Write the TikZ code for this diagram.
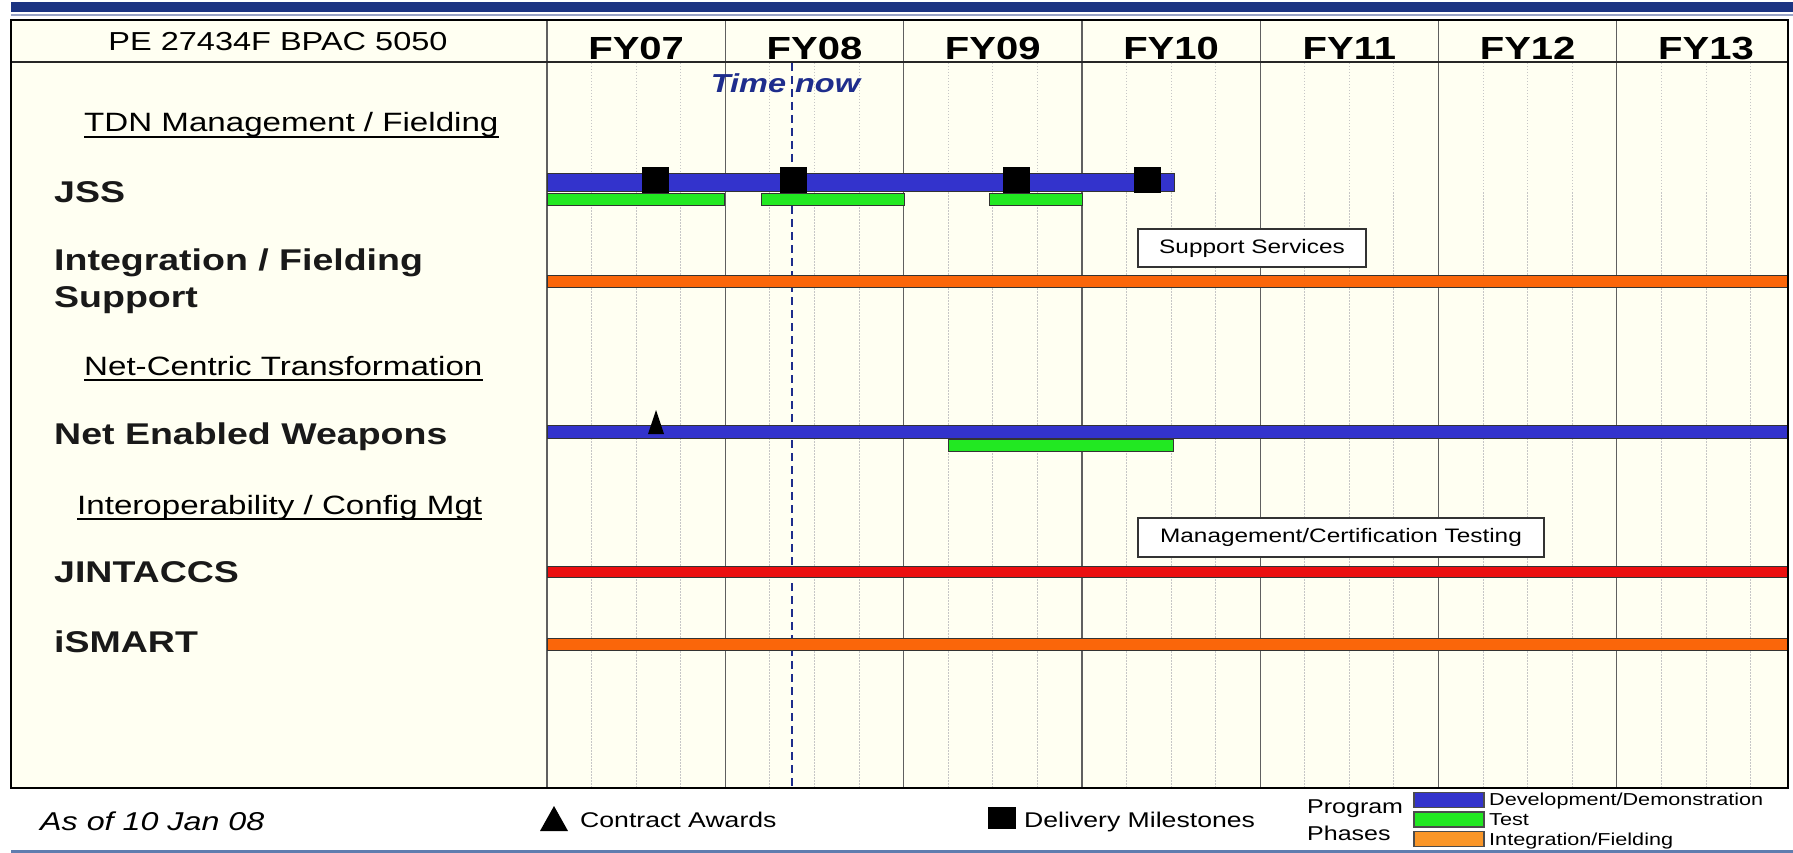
\documentclass[tikz,border=0pt]{standalone}
\usepackage{fontspec}
\setmainfont{Liberation Sans}[FakeStretch=1.25]
\usetikzlibrary{positioning,calc}

\definecolor{devblue}{RGB}{51,51,204}
\definecolor{testgreen}{RGB}{34,232,34}
\definecolor{fieldorange}{RGB}{250,102,10}
\definecolor{legorange}{RGB}{250,150,40}
\definecolor{certred}{RGB}{235,15,15}
\definecolor{paper}{RGB}{255,255,242}
\definecolor{bandblue}{RGB}{28,52,130}
\definecolor{nowblue}{RGB}{30,45,140}
\definecolor{rimblue}{RGB}{95,125,175}

\begin{document}
\begin{tikzpicture}[
  x=1pt, y=-1pt, inner sep=0pt,
  yearline/.style={gray!75!black, line width=1.3pt},
  qline/.style={gray!45, line width=0.9pt, dash pattern=on 1.5pt off 1.5pt},
  bar/.style={draw=black!80, line width=1pt},
  hdr/.style={font=\fontsize{26}{30}\selectfont, anchor=base},
  fy/.style={font=\fontsize{32}{36}\selectfont\bfseries, anchor=base},
  grp/.style={font=\fontsize{26.5}{30}\selectfont, anchor=base west},
  prog/.style={font=\fontsize{30}{37}\selectfont\bfseries, anchor=base west, text=black!90},
  note/.style={draw=black!80, line width=1.1pt, fill=white, font=\fontsize{19.5}{22}\selectfont},
  mile/.style={fill=black, minimum width=27pt, minimum height=26pt},
  legtxt/.style={font=\fontsize{21.3}{24}\selectfont, anchor=base west},
  phase/.style={font=\fontsize{17.3}{20}\selectfont, anchor=base west},
  swatch/.style={draw=black!70, line width=1.1pt, minimum width=70pt, minimum height=15pt},
]
  \useasboundingbox (0,0) rectangle (1793,853);
  \fill[bandblue] (11,2) rectangle (1793,12);
  \draw[bandblue!45, line width=2pt] (11,15) -- (1793,15);
  \draw[rimblue, line width=2.5pt] (11,851.5) -- (1793,851.5);
  \fill[paper] (11,20) rectangle (1788,788);

  \foreach \i in {0,...,6} {
    \draw[yearline] ({547+178.3*\i},20) -- ({547+178.3*\i},788);
    \foreach \q in {1,2,3}
      \draw[qline] ({547+178.3*\i+44.575*\q},63) -- ({547+178.3*\i+44.575*\q},788);
  }
  \foreach \yr [count=\i from 0] in {07,08,09,10,11,12,13}
    \node[fy] (fy\yr) at ({547+178.3*\i+89.15},60) {FY\yr};
  \node[hdr] (pe) at (278,51) {PE 27434F BPAC 5050};

  \coordinate (nowtop) at (792.4,63);
  \coordinate (nowbot) at (792.4,788);
  \draw[nowblue, line width=2.1pt, dash pattern=on 8pt off 5pt] (nowtop) -- (nowbot);
  \node[font=\fontsize{26}{30}\selectfont\bfseries\itshape, text=nowblue, anchor=base] (now) at (785.5,93) {Time now};

  \node[grp] (tdn) at (84,132) {TDN Management / Fielding};
  \node[prog] (jss) at (54,203) {JSS};
  \node[prog, anchor=north west, align=left] (intf) at (54,249) {Integration / Fielding\\Support};
  \node[grp] (nct) at (84,375) {Net-Centric Transformation};
  \node[prog] (new) at (54,444) {Net Enabled Weapons};
  \node[grp] (iop) at (77,514) {Interoperability / Config Mgt};
  \node[prog] (jin) at (54,582) {JINTACCS};
  \node[prog] (ism) at (54,652) {iSMART};
  \foreach \g in {tdn,nct,iop}
    \draw[line width=1.2pt] ($(\g.base west)+(0,5)$) -- ($(\g.base east)+(0,5)$);

  \filldraw[bar, fill=devblue] (547,174) rectangle (1174,192);
  \filldraw[bar, fill=testgreen] (547,194) rectangle (724.5,206);
  \filldraw[bar, fill=testgreen] (761,194) rectangle (904,206);
  \filldraw[bar, fill=testgreen] (989,194) rectangle (1082.5,206);
  \foreach \mx [count=\k] in {655,793.5,1016.5,1147}
    \node[mile] (ms\k) at (\mx,180.5) {};

  \node[note, minimum width=228pt, minimum height=38pt] (supp) at (1252,248) {Support Services};
  \filldraw[bar, fill=fieldorange] (547,275) rectangle (1788,287);

  \filldraw[bar, fill=devblue] (547,425) rectangle (1788,438);
  \filldraw[bar, fill=testgreen] (948,439) rectangle (1173,451);
  \fill (648,434) -- (656,410) -- (664,434) -- cycle;

  \node[note, minimum width=406pt, minimum height=39pt] (cert) at (1341,537.5) {Management/Certification Testing};
  \filldraw[bar, fill=certred] (547,566) rectangle (1788,577);
  \filldraw[bar, fill=fieldorange] (547,638) rectangle (1788,650);

  \draw[black!85, line width=1.3pt] (11,62) -- (1788,62);
  \draw[line width=2.6pt] (11,20) rectangle (1788,788);

  \node[font=\fontsize{25.8}{30}\selectfont\itshape, anchor=base west] (asof) at (40,830) {As of 10 Jan 08};
  \fill (540,831) -- (554,806) -- (568,831) -- cycle;
  \node[legtxt] (award) at (580,827) {Contract Awards};
  \node[fill=black, minimum width=28pt, minimum height=22pt] (msleg) at (1002,818) {};
  \node[legtxt] (deliv) at (1024,827) {Delivery Milestones};
  \node[font=\fontsize{20}{24}\selectfont, anchor=base west] (prg) at (1307,813) {Program};
  \node[font=\fontsize{20}{24}\selectfont, anchor=base west] (phs) at (1307,840) {Phases};
  \node[swatch, fill=devblue] (swdev) at (1449,800) {};
  \node[swatch, fill=testgreen] (swtest) at (1449,819.5) {};
  \node[swatch, fill=legorange] (swint) at (1449,839) {};
  \node[phase] (ldev) at (1489,805) {Development/Demonstration};
  \node[phase] (ltest) at (1489,825) {Test};
  \node[phase] (lint) at (1489,845) {Integration/Fielding};
\end{tikzpicture}
\end{document}
